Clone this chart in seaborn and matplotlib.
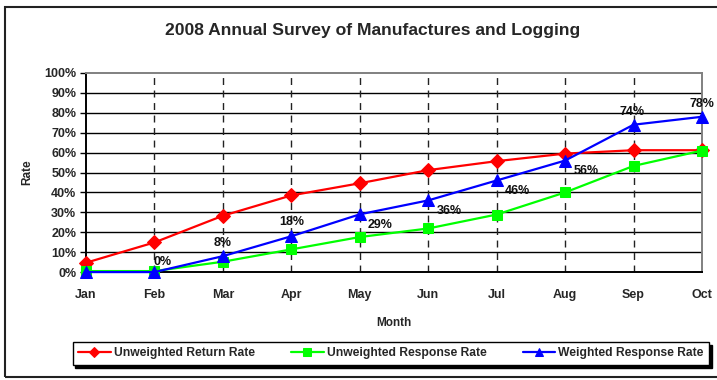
import matplotlib
matplotlib.use("Agg")
import matplotlib.pyplot as plt
from matplotlib.patches import Rectangle
from matplotlib.ticker import PercentFormatter
import pandas as pd
import seaborn as sns

months = ["Jan", "Feb", "Mar", "Apr", "May", "Jun", "Jul", "Aug", "Sep", "Oct"]
unweighted_return = [4.7, 14.9, 28.3, 38.5, 44.6, 51.2, 55.7, 59.5, 61.2, 61.2]
unweighted_response = [0.5, 0.5, 5.2, 11.4, 17.6, 21.9, 28.9, 40.0, 53.3, 61.0]
weighted_response = [0, 0, 8, 18, 29, 36, 46, 56, 74, 78]
weighted_labels = ["", "0%", "8%", "18%", "29%", "36%", "46%", "56%", "74%", "78%"]

series_names = ["Unweighted Return Rate", "Unweighted Response Rate", "Weighted Response Rate"]
series_values = [unweighted_return, unweighted_response, weighted_response]

rows = []
for name, vals in zip(series_names, series_values):
    for i, (m, v) in enumerate(zip(months, vals)):
        rows.append({"idx": i, "Month": m, "Rate": v, "Series": name})
df = pd.DataFrame(rows)

sns.set_theme(style="white")
plt.rcParams["font.family"] = ["Liberation Sans", "DejaVu Sans"]
plt.rcParams["font.weight"] = "bold"

fig = plt.figure(figsize=(7.17, 3.8), dpi=100)
ax = fig.add_axes([0.12, 0.284, 0.859, 0.524])

palette = {series_names[0]: "#ff0000", series_names[1]: "#00ff00", series_names[2]: "#0000ff"}
markers = {series_names[0]: "D", series_names[1]: "s", series_names[2]: "^"}
sizes = {series_names[0]: 7, series_names[1]: 7.5, series_names[2]: 8.5}

for name in series_names:
    sub = df[df["Series"] == name]
    sns.lineplot(data=sub, x="idx", y="Rate", color=palette[name], marker=markers[name],
                 markersize=sizes[name], markeredgecolor=palette[name], linewidth=1.6,
                 ax=ax, label=name, legend=False, zorder=3, clip_on=False)

ax.set_xlim(0, len(months) - 1)
ax.set_ylim(0, 100)
ax.set_xticks(range(len(months)))
ax.set_xticklabels(months)
ax.set_yticks(range(0, 101, 10))
ax.yaxis.set_major_formatter(PercentFormatter(decimals=0))

# horizontal solid grid, vertical dashed grid
for y in range(10, 100, 10):
    ax.axhline(y, color="black", linewidth=1.0, zorder=1)
for i in range(1, len(months) - 1):
    ax.axvline(i, color="#222222", linewidth=1.0, linestyle=(0, (5, 4)), zorder=1)

for s in ax.spines.values():
    s.set_color("#808080")
    s.set_linewidth(1.4)
ax.spines["left"].set_color("black")
ax.spines["bottom"].set_color("black")

ax.tick_params(axis="y", which="major", left=True, length=4, width=1, color="black",
               labelsize=9, pad=3)
ax.tick_params(axis="x", which="major", bottom=False, labelsize=9, pad=6)
for lab in ax.get_xticklabels() + ax.get_yticklabels():
    lab.set_fontweight("bold")

ax.set_xlabel("Month", fontsize=8.5, fontweight="bold", labelpad=12)
ax.set_ylabel("Rate", fontsize=8.5, fontweight="bold", labelpad=8)

# value labels on the weighted series
offsets = {1: (-1, 3, "left", "bottom"), 2: (0, 5, "center", "bottom"),
           3: (0, 6, "center", "bottom"), 4: (6, -3, "left", "top"),
           5: (6, -3, "left", "top"), 6: (6, -3, "left", "top"),
           7: (6, -3, "left", "top"), 8: (-1, 5, "center", "bottom"),
           9: (-9, 5, "left", "bottom")}
for i, (v, txt) in enumerate(zip(weighted_response, weighted_labels)):
    if not txt:
        continue
    dx, dy, ha, va = offsets[i]
    ax.annotate(txt, (i, v), xytext=(dx, dy), textcoords="offset points",
                ha=ha, va=va, fontsize=9, fontweight="bold", color="#111111",
                annotation_clip=False, zorder=4)

fig.suptitle("2008 Annual Survey of Manufactures and Logging", x=0.52, y=0.94,
             fontsize=12.6, fontweight="bold")

handles, labels = ax.get_legend_handles_labels()
leg = fig.legend(handles, labels, loc="center", bbox_to_anchor=(0.545, 0.07), ncol=3,
                 frameon=True, fancybox=False, shadow={"color": "black", "alpha": 1},
                 prop={"weight": "bold", "size": 8.7}, handlelength=2.7,
                 handletextpad=0.25, columnspacing=3.0, borderpad=0.45, markerscale=0.75)
leg.get_frame().set_edgecolor("black")
leg.get_frame().set_linewidth(1.0)

# outer chart frame
fig.patches.append(Rectangle((4.5 / 717, 3 / 380), 1.0, (375 - 5) / 380,
                             transform=fig.transFigure, fill=False,
                             edgecolor="#222222", linewidth=1.5, zorder=0))

fig.savefig("out.png", dpi=100)
